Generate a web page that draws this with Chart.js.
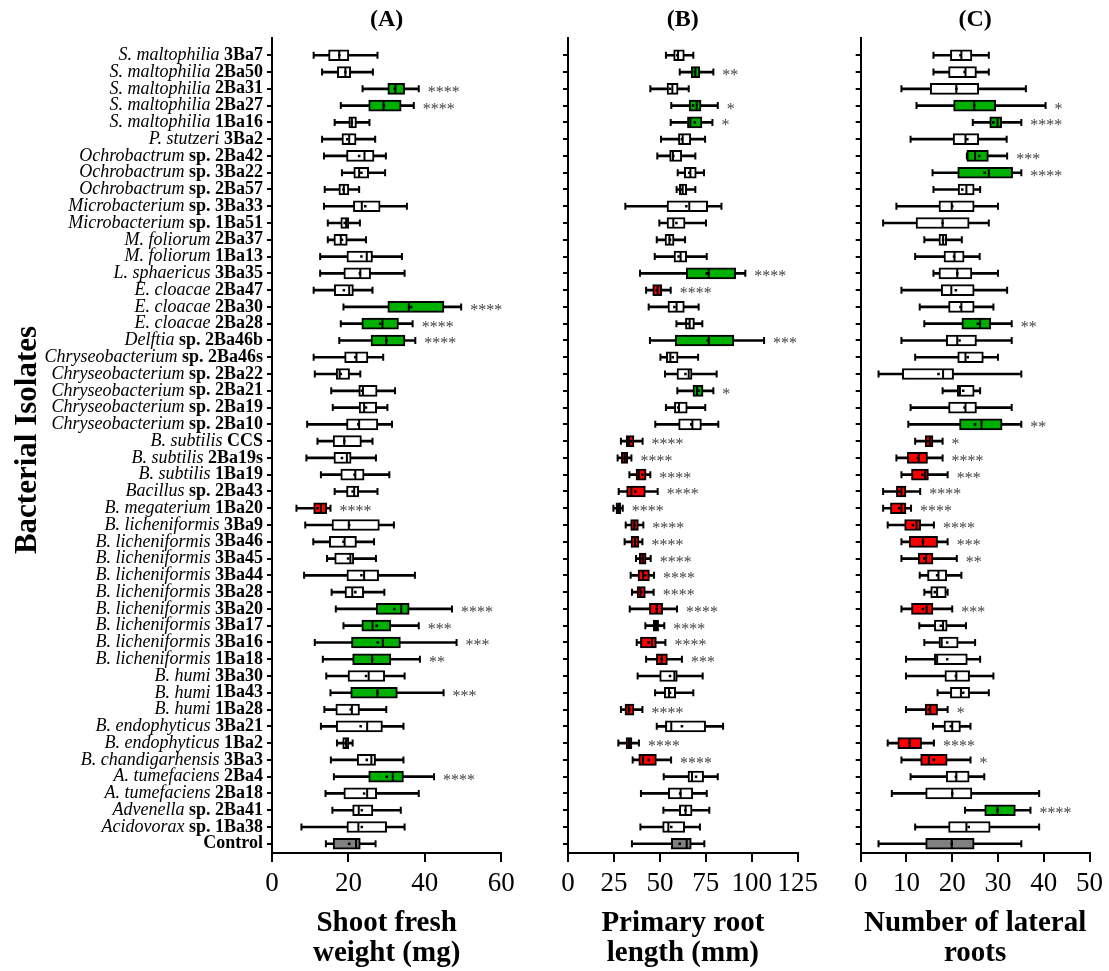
<!DOCTYPE html>
<html>
<head>
<meta charset="utf-8">
<script src="https://cdn.jsdelivr.net/npm/chart.js@4.4.1/dist/chart.umd.min.js"></script>
<style>
  html, body { margin: 0; padding: 0; background: #fff; }
  body { width: 1109px; height: 971px; position: relative; overflow: hidden; }
  canvas { position: absolute; left: 0; top: 0; }
</style>
</head>
<body>
<canvas id="panelA" width="1109" height="971"></canvas>
<canvas id="panelB" width="1109" height="971"></canvas>
<canvas id="panelC" width="1109" height="971"></canvas>
<script>
// isolates, top to bottom: italic species part + bold strain part
const species = [
  'S. maltophilia', 'S. maltophilia', 'S. maltophilia', 'S. maltophilia', 'S. maltophilia',
  'P. stutzeri', 'Ochrobactrum', 'Ochrobactrum', 'Ochrobactrum', 'Microbacterium',
  'Microbacterium', 'M. foliorum', 'M. foliorum', 'L. sphaericus', 'E. cloacae',
  'E. cloacae', 'E. cloacae', 'Delftia', 'Chryseobacterium', 'Chryseobacterium',
  'Chryseobacterium', 'Chryseobacterium', 'Chryseobacterium', 'B. subtilis', 'B. subtilis',
  'B. subtilis', 'Bacillus', 'B. megaterium', 'B. licheniformis', 'B. licheniformis',
  'B. licheniformis', 'B. licheniformis', 'B. licheniformis', 'B. licheniformis', 'B. licheniformis',
  'B. licheniformis', 'B. licheniformis', 'B. humi', 'B. humi', 'B. humi',
  'B. endophyticus', 'B. endophyticus', 'B. chandigarhensis', 'A. tumefaciens', 'A. tumefaciens',
  'Advenella', 'Acidovorax', ''
];
const strains = [
  '3Ba7', '2Ba50', '2Ba31', '2Ba27', '1Ba16',
  '3Ba2', 'sp. 2Ba42', 'sp. 3Ba22', 'sp. 2Ba57', 'sp. 3Ba33',
  'sp. 1Ba51', '2Ba37', '1Ba13', '3Ba35', '2Ba47',
  '2Ba30', '2Ba28', 'sp. 2Ba46b', 'sp. 2Ba46s', 'sp. 2Ba22',
  'sp. 2Ba21', 'sp. 2Ba19', 'sp. 2Ba10', 'CCS', '2Ba19s',
  '1Ba19', 'sp. 2Ba43', '1Ba20', '3Ba9', '3Ba46',
  '3Ba45', '3Ba44', '3Ba28', '3Ba20', '3Ba17',
  '3Ba16', '1Ba18', '3Ba30', '1Ba43', '1Ba28',
  '3Ba21', '1Ba2', '3Ba3', '2Ba4', '2Ba18',
  'sp. 2Ba41', 'sp. 1Ba38', 'Control'
];

// (A) shoot fresh weight (mg)
const minA = [10.9,13.1,23.7,18.0,16.4,13.1,13.6,18.3,13.8,13.6, 14.6,14.6,12.6,12.6,10.9,18.7,18.0,17.6,10.9,11.2,
  15.5,15.9,9.2,11.9,9.0,12.8,16.4,6.4,8.7,10.8, 14.4,8.4,15.6,16.7,18.7,11.2,13.3,14.2,15.3,13.7, 12.8,17.0,15.4,16.2,14.0,15.8,7.7,14.1];
const q1A = [14.8,17.1,30.3,25.3,20.1,18.3,19.5,21.4,17.5,21.3, 18.0,16.2,19.6,18.8,16.3,30.3,23.5,25.9,19.0,16.8,
  22.7,22.8,19.5,16.0,16.2,18.0,19.5,10.9,15.7,15.0, 16.4,19.6,19.1,27.3,23.5,20.8,21.1,19.9,20.6,16.7, 16.8,18.5,22.3,25.3,18.8,21.1,19.6,16.0];
const medA = [17.6,19.2,32.3,29.2,20.9,20.2,24.2,22.8,18.8,23.5, 19.4,18.0,24.8,23.1,20.2,35.8,28.9,29.9,22.1,17.7,
  23.8,24.1,22.8,18.9,19.6,21.8,21.5,12.8,20.1,19.0, 20.5,24.1,21.0,33.8,26.3,29.0,26.2,25.3,27.6,20.9, 24.9,19.4,26.0,31.6,24.9,22.7,22.6,22.0];
const q3A = [20.1,20.6,34.7,33.8,22.1,22.0,26.7,25.3,20.1,28.3, 20.1,19.7,26.3,25.8,21.3,45.0,33.1,34.8,25.1,20.3,
  27.5,27.4,27.7,23.4,20.7,24.1,22.7,14.3,28.1,22.1, 21.4,27.9,24.0,35.9,31.1,33.6,31.1,29.5,32.8,22.9, 28.9,20.1,27.1,34.4,27.4,26.4,30.0,23.1];
const maxA = [27.6,26.4,38.4,37.1,25.5,27.0,29.8,29.6,22.8,35.3, 23.0,24.6,34.0,34.7,26.3,49.5,36.8,37.5,29.1,23.1,
  32.2,30.2,31.4,26.3,27.2,30.7,27.6,15.3,31.9,26.7, 27.2,37.4,29.4,47.1,38.4,48.3,38.7,34.7,44.9,29.9, 34.4,21.1,34.4,42.4,38.4,33.7,34.7,27.1];
const meanA = [17.6,19.2,32.1,29.3,20.9,19.7,22.8,23.4,18.7,24.4, 19.0,18.3,23.4,23.0,18.8,36.4,28.3,29.9,21.8,18.0,
  23.5,24.6,22.6,18.9,18.3,21.6,21.1,11.9,20.2,18.7, 19.9,23.4,21.8,32.0,27.4,27.7,26.2,24.6,27.6,20.6, 23.2,19.2,24.8,30.0,24.1,23.5,23.5,20.2];
const groupA = ('wwggwwwwww' + 'wwwwwgggww' + 'wwwwwwwrww' + 'wwwggggwgw' + 'wwwgwwwc').split('');
const starsA = ['', '', '****', '****', '', '', '', '', '', '',
  '', '', '', '', '', '****', '****', '****', '', '',
  '', '', '', '', '', '', '', '****', '', '',
  '', '', '', '****', '***', '***', '**', '', '***', '',
  '', '', '', '****', '', '', '', ''];

// (B) primary root length (mm)
const minB = [53.3,60.8,44.8,56.2,55.9,50.6,48.6,59.7,59.1,31.2, 49.7,48.3,47.2,39.2,42.5,43.9,59.0,44.6,50.3,52.8,
  59.5,53.3,47.5,28.8,27.0,33.4,27.6,24.7,31.4,30.8, 37.0,34.1,34.8,33.6,42.1,37.4,42.5,37.9,47.4,28.8, 48.3,27.4,35.2,52.1,39.7,51.9,39.4,34.8];
const q1B = [57.5,67.1,53.9,65.9,65.0,60.1,55.3,63.3,60.6,53.9, 53.9,52.8,57.7,64.4,46.1,54.4,63.9,58.4,53.5,59.3,
  68.0,57.9,60.2,31.7,29.0,37.0,31.9,26.1,34.1,34.3, 38.8,38.1,37.6,44.3,46.4,39.4,48.1,49.9,52.4,31.0, 53.0,31.6,38.5,65.3,54.6,60.6,51.5,56.2];
const medB = [59.9,69.3,56.8,70.0,66.6,62.4,57.1,66.6,62.4,66.0, 57.3,55.2,61.3,76.6,48.8,59.1,66.2,76.6,55.7,65.7,
  70.2,60.4,67.7,33.3,30.8,38.5,34.5,27.4,36.1,36.5, 40.6,40.8,39.4,48.3,47.9,45.7,51.0,57.9,55.0,33.0, 56.2,33.2,40.8,67.5,61.3,64.0,54.6,64.6];
const q3B = [63.3,71.8,59.9,72.4,72.9,66.8,61.9,69.8,64.6,76.0, 63.7,57.7,64.6,91.3,51.0,63.3,68.8,90.3,59.9,67.5,
  73.5,64.9,72.6,35.9,32.5,42.5,42.1,28.7,38.3,38.6, 42.5,44.3,42.1,51.5,49.3,48.1,54.1,59.5,58.6,35.9, 74.9,34.8,48.1,73.8,67.9,67.5,63.5,67.1];
const maxB = [68.2,79.1,65.7,81.5,78.6,74.6,69.3,74.0,69.3,83.5, 75.1,63.7,75.5,96.5,55.9,71.1,73.1,106.7,70.8,80.9,
  79.1,74.7,81.8,40.6,34.5,44.8,48.8,29.8,41.0,40.5, 45.0,46.8,46.6,59.3,52.4,53.0,62.0,73.3,68.2,40.5, 84.4,38.6,56.1,81.5,75.5,76.9,71.8,74.2];
const meanB = [59.5,69.0,55.5,68.0,69.0,62.0,57.3,66.0,61.7,64.4, 59.0,55.5,60.2,75.5,48.3,57.9,65.5,76.0,57.0,63.9,
  71.1,60.0,67.1,34.3,30.8,40.5,36.6,27.4,36.1,36.5, 40.6,42.1,39.9,48.3,47.9,43.9,51.0,55.5,55.5,33.4, 62.0,33.2,43.9,69.7,61.0,63.9,56.2,60.8];
const groupB = ('wgwggwwwww' + 'wwwgrwwgww' + 'gwwrrrrrrr' + 'rrrrrrrwwr' + 'wrrwwwwc').split('');
const starsB = ['', '**', '', '*', '*', '', '', '', '', '',
  '', '', '', '****', '****', '', '', '***', '', '',
  '*', '', '', '****', '****', '****', '****', '****', '****', '****',
  '****', '****', '****', '****', '****', '****', '***', '', '', '****',
  '', '****', '****', '', '', '', '', ''];

// (C) number of lateral roots
const minC = [15.9,15.9,8.9,12.2,24.5,10.9,23.2,15.7,15.9,7.8, 4.9,13.9,11.9,15.9,8.9,12.9,13.9,8.9,11.9,3.9,
  17.9,10.9,10.4,11.9,7.8,8.9,4.9,4.9,5.9,8.9, 8.9,12.9,13.9,8.9,12.8,13.9,9.9,9.9,16.8,9.9, 15.8,5.9,8.9,10.9,6.8,22.8,11.9,3.9];
const q1C = [19.6,19.2,15.2,20.3,28.2,20.2,23.2,21.2,21.3,17.1, 12.1,17.1,18.2,17.1,17.6,19.2,22.1,18.7,21.2,9.1,
  21.1,19.2,21.6,14.1,10.2,11.1,7.8,6.5,9.6,10.6, 12.6,14.6,15.3,11.1,16.1,17.1,16.1,18.4,19.6,14.1, 18.2,8.1,13.1,18.7,14.2,27.1,19.2,14.2];
const medC = [22.0,22.9,20.9,24.8,29.9,22.9,25.0,28.0,23.1,19.9, 17.9,18.0,20.5,21.1,19.8,22.0,26.1,21.1,22.9,18.0,
  21.7,22.9,26.4,15.1,12.7,14.1,8.9,8.9,12.2,13.6, 14.3,17.0,16.7,14.4,18.0,17.7,16.7,20.9,21.9,15.2, 20.0,10.7,14.9,20.9,20.0,29.9,23.1,19.9];
const q3C = [24.3,25.3,25.8,29.5,30.8,25.8,27.9,33.2,24.8,24.8, 23.7,18.8,22.6,24.3,24.8,24.8,28.4,25.3,26.8,20.3,
  24.8,25.3,30.9,15.8,14.6,14.8,9.9,9.9,13.1,16.8, 15.8,18.8,18.7,15.8,18.9,21.3,23.3,23.8,23.8,16.8, 21.8,13.3,18.9,23.7,24.3,33.8,28.3,24.8];
const maxC = [28.0,28.0,36.1,40.4,35.1,31.9,32.0,35.1,26.1,30.0, 28.0,22.1,26.0,30.0,32.0,29.0,33.0,33.0,30.0,35.1,
  26.1,33.0,35.1,17.9,17.9,19.0,13.0,11.0,16.0,19.0, 21.0,22.0,19.0,20.0,23.0,25.0,26.1,29.0,28.0,19.0, 24.0,16.0,24.0,27.0,39.0,37.1,39.0,35.1];
const meanC = [21.8,22.7,20.9,24.8,29.0,23.3,25.9,27.1,22.2,20.0, 17.9,18.0,20.4,21.1,20.8,21.8,25.6,21.6,23.4,17.0,
  22.4,22.7,25.0,14.7,12.5,13.5,8.4,8.4,11.4,13.6, 13.9,16.7,16.2,13.6,17.5,18.9,18.9,20.8,22.4,14.9, 19.7,10.7,16.0,20.8,20.0,29.9,23.6,19.9];
const groupC = ('wwwggwggww' + 'wwwwwwgwww' + 'wwgrrrrrrr' + 'rwwrwwwwwr' + 'wrrwwgwc').split('');
const starsC = ['', '', '', '*', '****', '', '***', '****', '', '',
  '', '', '', '', '', '', '**', '', '', '',
  '', '', '**', '*', '****', '***', '****', '****', '****', '***',
  '**', '', '', '***', '', '', '', '', '', '*',
  '', '****', '*', '', '', '****', '', ''];

const SERIF = '"Liberation Serif", "Times New Roman", serif';
const fills = { w: '#ffffff', g: '#00b000', r: '#ff0000', c: '#808080' };
const rows = strains.map((_, i) => i);

function textPlugin(p) {
  return {
    id: 'text' + p.letter,
    afterDraw(chart) {
      const { ctx, chartArea, scales: { x, y } } = chart;
      const cx = (chartArea.left + chartArea.right) / 2;
      ctx.save();
      ctx.fillStyle = '#000';
      ctx.textAlign = 'center';
      ctx.textBaseline = 'alphabetic';
      ctx.font = 'bold 24px ' + SERIF;
      ctx.fillText(p.letter, cx, 26);
      ctx.font = 'bold 29px ' + SERIF;
      p.title.forEach((line, k) => ctx.fillText(line, cx, 931 + k * 30));

      // significance stars
      ctx.font = '16px ' + SERIF;
      ctx.fillStyle = '#444';
      ctx.textAlign = 'left';
      p.stars.forEach((s, i) => {
        if (s) ctx.fillText(s, x.getPixelForValue(p.max[i]) + 9, y.getPixelForValue(i) + 8);
      });

      if (p.labels) {
        ctx.fillStyle = '#000';
        ctx.textAlign = 'right';
        ctx.textBaseline = 'middle';
        const right = chartArea.left - 9;
        rows.forEach(i => {
          const yy = y.getPixelForValue(i);
          ctx.font = 'bold 18px ' + SERIF;
          const wb = ctx.measureText(strains[i]).width;
          ctx.fillText(strains[i], right, yy);
          if (species[i]) {
            ctx.font = 'italic 18px ' + SERIF;
            ctx.fillText(species[i] + ' ', right - wb, yy);
          }
        });
        ctx.translate(28, 440);
        ctx.rotate(-Math.PI / 2);
        ctx.textAlign = 'center';
        ctx.font = 'bold 31px ' + SERIF;
        ctx.fillText('Bacterial Isolates', 0, 0);
      }
      ctx.restore();
    }
  };
}

function panel(id, p) {
  return new Chart(document.getElementById(id), {
    type: 'bar',
    data: {
      datasets: [
        { // whiskers
          type: 'bar', indexAxis: 'y', grouped: false, order: 4,
          data: rows.map(i => ({ y: i, x: [p.min[i], p.max[i]] })),
          backgroundColor: '#000', borderWidth: 0, barThickness: 2
        },
        { // whisker caps
          type: 'scatter', order: 3,
          data: rows.flatMap(i => [{ x: p.min[i], y: i }, { x: p.max[i], y: i }]),
          pointStyle: 'line', pointRotation: 90, pointRadius: 3.5,
          pointBorderWidth: 2, pointBorderColor: '#000'
        },
        { // boxes
          type: 'bar', indexAxis: 'y', grouped: false, order: 2,
          data: rows.map(i => ({ y: i, x: [p.q1[i], p.q3[i]] })),
          backgroundColor: p.group.map(g => fills[g]),
          borderColor: '#000', borderWidth: 2, borderSkipped: false, barThickness: 11
        },
        { // medians
          type: 'scatter', order: 1,
          data: rows.map(i => ({ x: p.med[i], y: i })),
          pointStyle: 'line', pointRotation: 90, pointRadius: 5,
          pointBorderWidth: 2, pointBorderColor: '#000'
        },
        { // means
          type: 'scatter', order: 0,
          data: rows.map(i => ({ x: p.mean[i], y: i })),
          pointStyle: 'rect', pointRadius: 1.8, pointBorderWidth: 0,
          pointBackgroundColor: '#000'
        }
      ]
    },
    options: {
      responsive: false,
      animation: false,
      events: [],
      layout: { padding: { left: p.left, right: 1109 - p.right, top: 38, bottom: 0 } },
      plugins: { legend: { display: false }, tooltip: { enabled: false } },
      scales: {
        x: {
          type: 'linear', position: 'bottom', min: 0, max: p.xMax, offset: false,
          afterFit: s => { s.height = 118; },
          ticks: { stepSize: p.step, autoSkip: false, maxRotation: 0, color: '#000', padding: 6,
                   font: { family: SERIF, size: 27 } },
          grid: { offset: false, drawOnChartArea: false, color: '#000', lineWidth: 2, tickLength: 9 },
          border: { color: '#000', width: 2 }
        },
        y: {
          type: 'linear', position: 'left', reverse: true, min: -1.03, max: 47.55, offset: false,
          afterFit: s => { s.width = 0; },
          afterBuildTicks: s => { s.ticks = rows.map(i => ({ value: i })); },
          ticks: { display: false },
          grid: { offset: false, drawOnChartArea: false, color: '#000', lineWidth: 2, tickLength: 5 },
          border: { color: '#000', width: 2 }
        }
      }
    },
    plugins: [textPlugin(p)]
  });
}

panel('panelA', { letter: '(A)', title: ['Shoot fresh', 'weight (mg)'], labels: true,
  left: 272, right: 501.3, xMax: 60, step: 20,
  min: minA, q1: q1A, med: medA, q3: q3A, max: maxA, mean: meanA, group: groupA, stars: starsA });
panel('panelB', { letter: '(B)', title: ['Primary root', 'length (mm)'],
  left: 568, right: 797.7, xMax: 125, step: 25,
  min: minB, q1: q1B, med: medB, q3: q3B, max: maxB, mean: meanB, group: groupB, stars: starsB });
panel('panelC', { letter: '(C)', title: ['Number of lateral', 'roots'],
  left: 860.7, right: 1090.3, xMax: 50, step: 10,
  min: minC, q1: q1C, med: medC, q3: q3C, max: maxC, mean: meanC, group: groupC, stars: starsC });
</script>
</body>
</html>
